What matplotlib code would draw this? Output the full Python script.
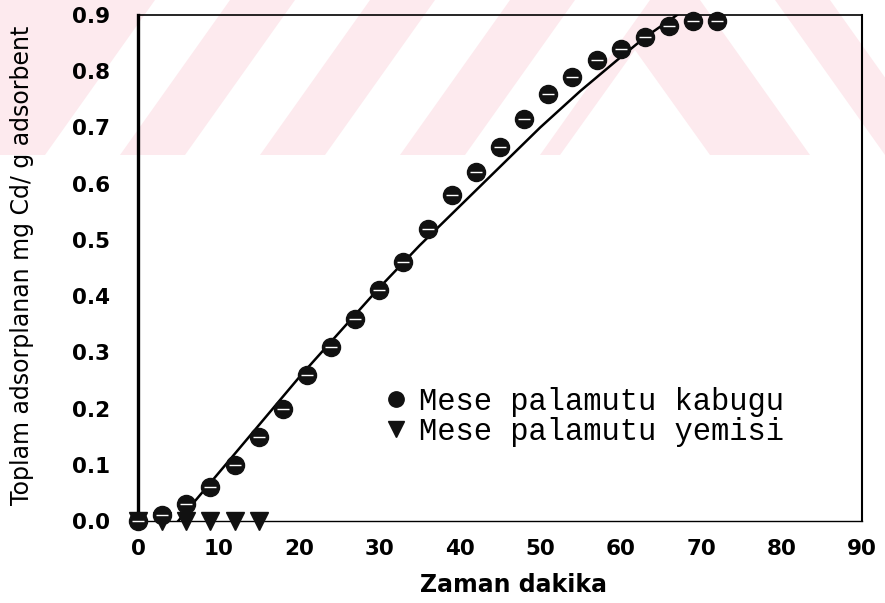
import numpy as np
import matplotlib.pyplot as plt
from matplotlib.patches import Polygon, Rectangle

# Cd uptake, oak acorn shell vs. acorn fruit
time_shell = [0, 3, 6, 9, 12, 15, 18, 21, 24, 27, 30, 33, 36, 39, 42, 45,
              48, 51, 54, 57, 60, 63, 66, 69, 72]
q_shell = [0.0, 0.01, 0.03, 0.06, 0.10, 0.15, 0.20, 0.26, 0.31, 0.36, 0.41,
           0.46, 0.52, 0.58, 0.62, 0.665, 0.715, 0.76, 0.79, 0.82, 0.84,
           0.86, 0.88, 0.89, 0.89]

time_fruit = [0, 3, 6, 9, 12, 15]
q_fruit = [0.0, 0.0, 0.0, 0.0, 0.0, 0.0]

# fitted curve for the shell
fit_t = [5, 10, 15, 20, 25, 30, 35, 40, 45, 50, 55, 60, 63, 67]
fit_q = [0.0, 0.085, 0.17, 0.255, 0.335, 0.415, 0.49, 0.56, 0.63, 0.70,
         0.765, 0.825, 0.86, 0.9]

x_ticks = [0, 10, 20, 30, 40, 50, 60, 70, 80, 90]
y_ticks = [0.0, 0.1, 0.2, 0.3, 0.4, 0.5, 0.6, 0.7, 0.8, 0.9]
labels = ['Mese palamutu kabugu', 'Mese palamutu yemisi']

W, H = 885, 603
fig = plt.figure(figsize=(W / 100, H / 100), dpi=100)

# pink watermark band across the top
bg = fig.add_axes([0, 0, 1, 1], zorder=-1)
bg.set_xlim(0, W)
bg.set_ylim(H, 0)
bg.axis('off')
pink = '#fdeaee'
band_h = 155
bg.add_patch(Rectangle((0, 0), W, band_h, color=pink, lw=0))
shift, sw = 110, 75
for b in [45, 185, 325, 465]:
    bg.add_patch(Polygon([(b, band_h), (b + sw, band_h), (b + sw + shift, 0),
                          (b + shift, 0)], color='white', lw=0))
bg.add_patch(Polygon([(560, band_h), (635, 50), (710, band_h)], color='white', lw=0))
for t in [700, 830]:
    bg.add_patch(Polygon([(t, 0), (t + sw, 0), (t + sw + shift, band_h),
                          (t + shift, band_h)], color='white', lw=0))

ax = fig.add_axes([138 / W, 1 - 521 / H, 724 / W, 506 / H])
ax.set_facecolor('none')

ax.plot(fit_t, fit_q, color='black', lw=1.8, zorder=2)
ax.plot(time_shell, q_shell, 'o', color='#111111', ms=13, zorder=3,
        clip_on=False, label=labels[0])
ax.plot(time_shell, q_shell, '_', color='white', ms=8, mew=1, zorder=4,
        clip_on=False)
ax.plot(time_fruit, q_fruit, 'v', color='#111111', ms=13, zorder=3,
        clip_on=False, label=labels[1])

ax.set_xlim(0, 90)
ax.set_ylim(0, 0.9)
ax.set_xticks(x_ticks)
ax.set_yticks(y_ticks)
ax.set_yticklabels([f'{v:.1f}' for v in y_ticks])
ax.tick_params(length=0, labelsize=15.5)
ax.tick_params(axis='y', pad=20)
ax.tick_params(axis='x', pad=13)
for lab in ax.get_xticklabels() + ax.get_yticklabels():
    lab.set_fontweight('bold')

for side in ax.spines:
    ax.spines[side].set_color('black')
ax.spines['left'].set_linewidth(2.4)
ax.spines['right'].set_linewidth(1.5)
ax.spines['top'].set_linewidth(1.2)
ax.spines['bottom'].set_linewidth(1.0)

ax.set_xlabel('Zaman dakika', fontsize=17, fontweight='bold', va='center')
ax.xaxis.set_label_coords(0.518, -0.126)
ax.set_ylabel('Toplam adsorplanan mg Cd/ g adsorbent', fontsize=17, va='center')
ax.yaxis.set_label_coords(-0.160, 0.506)

ax.legend(loc='center left', bbox_to_anchor=(0.297, 0.206), frameon=False,
          prop={'family': 'Liberation Mono', 'size': 22}, handlelength=1,
          handletextpad=0.25, labelspacing=0.0, markerscale=0.85)

fig.savefig('out.png', dpi=100)
